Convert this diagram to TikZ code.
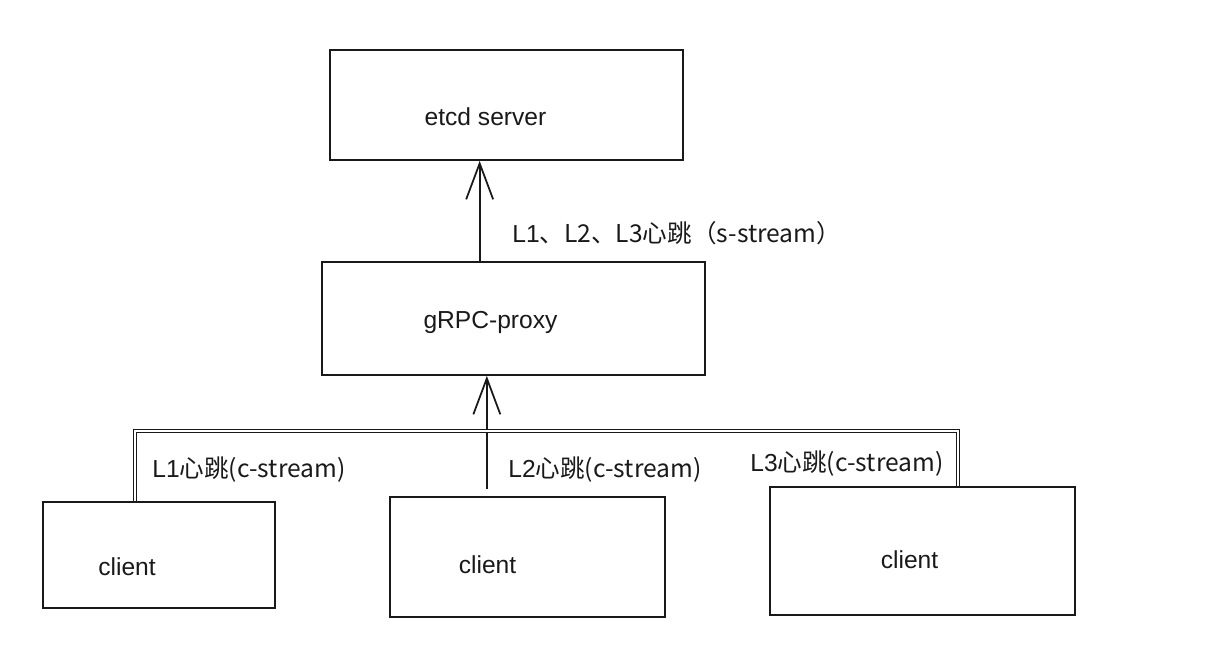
\documentclass[tikz,border=0pt]{standalone}
\usepackage{fontspec}
\setmainfont{Liberation Sans}
\newfontfamily\cjk{Noto Sans CJK SC}
\usetikzlibrary{arrows.meta,calc}
\definecolor{ink}{RGB}{25,25,25}
\tikzset{
  box/.style={draw=ink,line width=1pt,inner sep=0pt},
  note/.style={anchor=west,inner sep=0pt,font=\fontsize{14}{17}\selectfont,text=ink},
  arr/.style={-{Straight Barb[length=0.72cm,width=0.54cm]},draw=ink,line width=1pt},
  bus/.style={draw=ink,double,double distance=1.3pt,line width=0.6pt}
}

\begin{document}
\begin{tikzpicture}[x=0.02cm,y=-0.02cm,every label/.style={font=\fontsize{14}{17}\selectfont,text=ink}]
\useasboundingbox (0,0) rectangle (1213,649);
% boxes
\node[box,minimum width=7.06cm,minimum height=2.2cm,label={[shift={(-21,12)}]center:etcd server}] (etcd) at (506.5,105) {};
\node[box,minimum width=7.66cm,minimum height=2.26cm,label={[shift={(-23,4)}]center:gRPC-proxy}] (proxy) at (513.5,318.5) {};
\node[box,minimum width=4.64cm,minimum height=2.12cm,label={[shift={(-32,12)}]center:client}] (c1) at (159,555) {};
\node[box,minimum width=5.5cm,minimum height=2.4cm,label={[shift={(-40,8)}]center:client}] (c2) at (527.5,557) {};
\node[box,minimum width=6.1cm,minimum height=2.56cm,label={[shift={(-13,9)}]center:client}] (c3) at (922.5,551) {};
% connectors
\coordinate (s0) at ($(proxy.north west)!0.412!(proxy.north east)$);
\draw[arr] (s0) -- (s0 |- etcd.south);
\coordinate (m0) at ($(c2.north west)!0.353!(c2.north east)$);
\draw[arr,shorten <=0.14cm] (m0) -- (m0 |- proxy.south);
\coordinate (b1) at ($(c1.north west)!0.397!(c1.north east)$);
\coordinate (b3) at ($(c3.north west)!0.616!(c3.north east)$);
\coordinate (bj) at (0,431);
\draw[bus] (b1) -- (b1 |- bj) -- (b3 |- bj) -- (b3);
% labels
\node[note] (ls) at (512,233) {L1\cjk{、}L2\cjk{、}L3\cjk{心跳（}s-stream\cjk{）}};
\node[note] (l1) at (152,470) {L1\cjk{心跳}(c-stream)};
\node[note] (l2) at (508,470) {L2\cjk{心跳}(c-stream)};
\node[note] (l3) at (750,464) {L3\cjk{心跳}(c-stream)};
\end{tikzpicture}
\end{document}
